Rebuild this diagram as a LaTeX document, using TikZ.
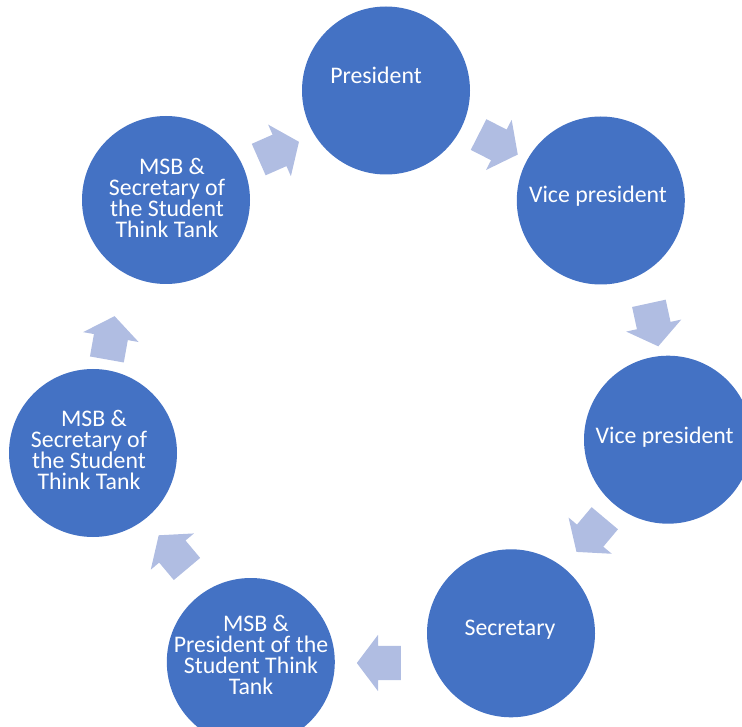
\documentclass[tikz,border=0pt]{standalone}
\usepackage{fontspec}
\setmainfont{Carlito}
\usetikzlibrary{shapes.arrows}
\definecolor{cblue}{RGB}{68,114,196}
\definecolor{ablue}{RGB}{176,189,226}
\begin{document}
\begin{tikzpicture}[x=1pt,y=-1pt,
  circ/.style={circle,fill=cblue,minimum size=168pt,inner sep=0pt},
  lbl/.style={text=white,font=\fontsize{23.8}{21}\selectfont,align=center,inner sep=0pt},
  barrow/.style={single arrow,fill=ablue,minimum height=44pt,inner xsep=0pt,inner ysep=17pt,
    single arrow head extend=11pt,single arrow tip angle=106}]
\useasboundingbox (0,0) rectangle (742,727);
\clip (0,0) rectangle (742,727);
% circles
\node[circ] (c1) at (386,90.5) {};
\node[circ] (c2) at (600.8,200.5) {};
\node[circ] (c3) at (668,439.7) {};
\node[circ] (c4) at (511,633.3) {};
\node[circ] (c5) at (250.8,662) {};
\node[circ] (c6) at (93,453) {};
\node[circ] (c7) at (166,200) {};
% labels
\node[lbl] (t1) at (376,75) {President};
\node[lbl] (t2) at (598,196) {Vice president};
\node[lbl] (t3) at (664.7,437) {Vice president};
\node[lbl] (t4) at (510,630) {Secretary};
\node[lbl] (t5) at (251,655) {\hspace*{10pt}MSB \&\\President of the\\Student Think\\Tank};
\node[lbl] (t6) at (89,450) {\hspace*{10pt}MSB \&\\Secretary of\\the Student\\Think Tank};
\node[lbl] (t7) at (167,198) {\hspace*{10pt}MSB \&\\Secretary of\\the Student\\Think Tank};
% arrows
\node[barrow,rotate=23.8] (a1) at (272.9,153.3) {};
\node[barrow,rotate=-27] (a2) at (492.4,141.6) {};
\node[barrow,rotate=-77.7] (a3) at (652.2,318.5) {};
\node[barrow,rotate=-130] (a4) at (594.8,530.1) {};
\node[barrow,rotate=180] (a5) at (385.3,663) {};
\node[barrow,rotate=130] (a6) at (177.0,557.1) {};
\node[barrow,rotate=79.9] (a7) at (109.6,344.2) {};
\end{tikzpicture}
\end{document}
